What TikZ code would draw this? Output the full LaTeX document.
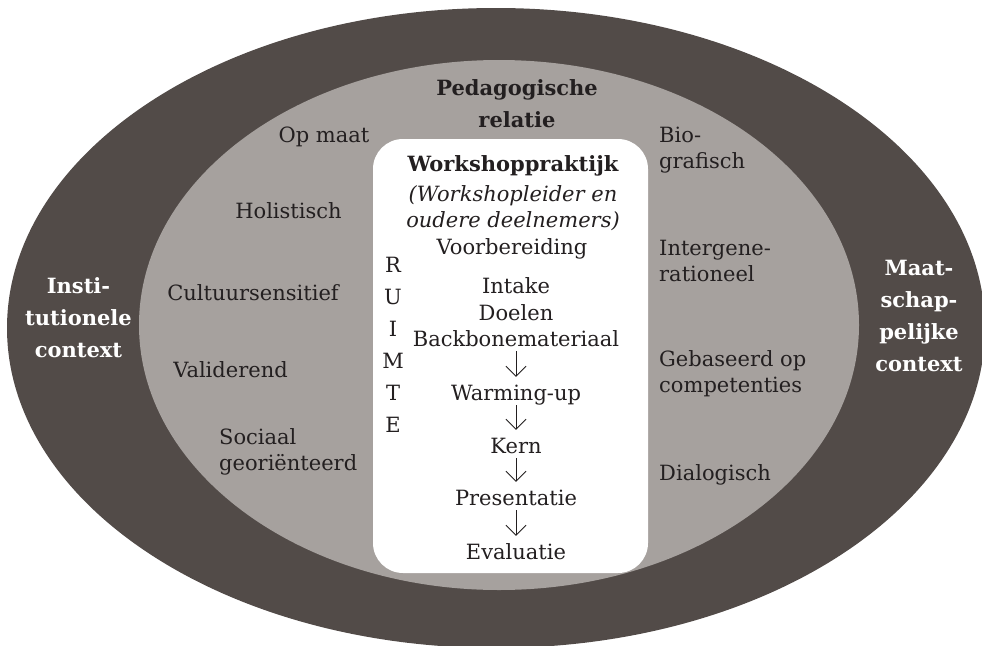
\documentclass[tikz,border=0pt]{standalone}
\usepackage{fontspec}
\setmainfont{DejaVu Serif}
\usetikzlibrary{arrows.meta}
\definecolor{ctx}{HTML}{524B48}
\definecolor{rel}{HTML}{A6A19E}
\definecolor{ink}{HTML}{231F20}
\tikzset{
  lbl/.style={anchor=base, inner sep=0pt, text=ink, font=\fontsize{21}{26}\selectfont},
  lbll/.style={lbl, anchor=base west, align=left},
  ctxlbl/.style={anchor=base, inner sep=0pt, text=white, align=center, font=\fontsize{21}{32}\selectfont\bfseries},
  stp/.style={lbl, text height=15pt, text depth=5pt},
  flow/.style={-{Straight Barb[length=10pt,width=20pt]}, line width=0.9pt, draw=ink, shorten >=8pt},
}
\begin{document}
\begin{tikzpicture}[x=1pt,y=-1pt]
            \useasboundingbox (0,0) rectangle (982,645);
            % rings
            \fill[ctx] (496,328) ellipse [x radius=489pt, y radius=320pt];
            \fill[rel] (499,325) ellipse [x radius=360pt, y radius=265pt];
            \fill[white, rounded corners=30pt] (373,139) rectangle (648,573);
            % contexts (multi-line nodes sit on their last line)
            \node[ctxlbl] (inst) at (78.5,357) {Insti-\\tutionele\\context};
            \node[ctxlbl] (maat) at (919,371) {Maat-\\schap-\\pelijke\\context};
            \node[lbl, align=center, font=\fontsize{21}{32}\selectfont\bfseries] (ped) at (517,127) {Pedagogische\\relatie};
            % left
            \node[lbl] (opmaat) at (324,142) {Op maat};
            \node[lbl] (holis) at (288.5,218) {Holistisch};
            \node[lbl] (cult) at (253,300) {Cultuursensitief};
            \node[lbl] (valid) at (230.5,377) {Validerend};
            \node[lbll] (sociaal) at (219,470) {Sociaal\\georiënteerd};
            % right
            \node[lbll] (bio) at (659,168) {Bio-\\grafisch};
            \node[lbll] (inter) at (659,281) {Intergene-\\rationeel};
            \node[lbll] (comp) at (659,392) {Gebaseerd op\\competenties};
            \node[lbll] (dialoog) at (659,480) {Dialogisch};
            % practice
            \node[lbl, font=\fontsize{21}{26}\selectfont\bfseries] (wp) at (513,171) {Workshoppraktijk};
            \node[lbl, align=center, font=\fontsize{21}{26}\selectfont\itshape] (wpsub) at (513,227) {(Workshopleider en\\oudere deelnemers)};
            \node[lbl, align=center, font=\fontsize{21}{32}\selectfont] (ruimte) at (393,432) {R\\U\\I\\M\\T\\E};
            \node[stp] (voor) at (512,254) {Voorbereiding};
            \node[stp] (intake) at (516,293) {Intake};
            \node[stp] (doelen) at (516,320) {Doelen};
            \node[stp] (backbone) at (516,346) {Backbonemateriaal};
            \node[stp] (warm) at (516,400) {Warming-up};
            \node[stp] (kern) at (516,453) {Kern};
            \node[stp] (pres) at (516,505) {Presentatie};
            \node[stp] (eval) at (516,559) {Evaluatie};
            \draw[flow] (backbone) -- (warm);
            \draw[flow] (warm) -- (kern);
            \draw[flow] (kern) -- (pres);
            \draw[flow] (pres) -- (eval);
        \end{tikzpicture}
\end{document}
